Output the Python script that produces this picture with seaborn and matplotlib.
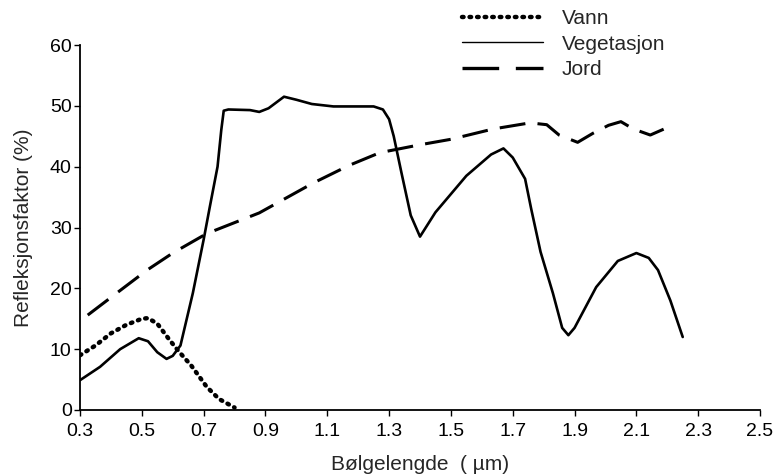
import matplotlib
matplotlib.use("Agg")
import matplotlib.pyplot as plt
from matplotlib.lines import Line2D
import seaborn as sns
import pandas as pd

# --- data ---
veg_x = [0.30, 0.365, 0.43, 0.49, 0.52, 0.55, 0.58, 0.60, 0.625, 0.665, 0.70, 0.72, 0.745,
         0.757, 0.765, 0.78, 0.85, 0.88, 0.91, 0.96, 1.00, 1.05, 1.12, 1.25, 1.28, 1.30,
         1.315, 1.34, 1.37, 1.40, 1.45, 1.55, 1.63, 1.67, 1.70, 1.74, 1.76, 1.79, 1.83,
         1.86, 1.88, 1.90, 1.97, 2.04, 2.10, 2.14, 2.17, 2.21, 2.25]
veg_y = [4.9, 7.1, 10.0, 11.8, 11.3, 9.5, 8.4, 8.9, 10.6, 19.2, 28.0, 33.4, 40.0,
         46.0, 49.2, 49.4, 49.3, 49.0, 49.6, 51.5, 51.0, 50.3, 49.9, 49.9, 49.4, 47.8,
         45.0, 39.0, 32.0, 28.5, 32.5, 38.5, 42.0, 43.0, 41.5, 38.0, 33.0, 26.0, 19.2,
         13.5, 12.3, 13.5, 20.2, 24.5, 25.8, 25.0, 23.0, 18.0, 12.0]

water_x = [0.30, 0.35, 0.40, 0.45, 0.50, 0.52, 0.55, 0.59, 0.62, 0.66, 0.71, 0.75, 0.80]
water_y = [9.0, 10.6, 12.6, 14.0, 15.0, 15.1, 14.2, 11.5, 9.6, 7.3, 3.8, 1.8, 0.4]

soil_x = [0.325, 0.40, 0.517, 0.60, 0.71, 0.88, 1.054, 1.17, 1.27, 1.40, 1.50, 1.637,
          1.756, 1.81, 1.85, 1.91, 1.96, 2.01, 2.05, 2.09, 2.145, 2.19]
soil_y = [15.6, 18.5, 23.0, 25.8, 29.0, 32.4, 37.3, 40.2, 42.3, 43.6, 44.5, 46.2,
          47.2, 46.9, 45.2, 44.0, 45.5, 46.8, 47.4, 46.2, 45.2, 46.2]

series_names = ["Vann", "Vegetasjon", "Jord"]
x_ticks = [0.3, 0.5, 0.7, 0.9, 1.1, 1.3, 1.5, 1.7, 1.9, 2.1, 2.3, 2.5]
y_ticks = [0, 10, 20, 30, 40, 50, 60]

sns.set_style("ticks")
plt.rcParams["font.family"] = ["Liberation Sans", "DejaVu Sans"]

fig = plt.figure(figsize=(7.8, 4.75), dpi=100)
ax = fig.add_axes([80 / 780, 65 / 475, 680 / 780, 365 / 475])

df_w = pd.DataFrame({"x": water_x, "y": water_y})
df_v = pd.DataFrame({"x": veg_x, "y": veg_y})
df_s = pd.DataFrame({"x": soil_x, "y": soil_y})

sns.lineplot(data=df_w, x="x", y="y", ax=ax, color="black", lw=3.2,
             linestyle=(0, (0.35, 1.35)), dash_capstyle="round", sort=False)
sns.lineplot(data=df_v, x="x", y="y", ax=ax, color="black", lw=1.9, sort=False)
sns.lineplot(data=df_s, x="x", y="y", ax=ax, color="black", lw=2.2,
             linestyle=(0, (8.5, 4)), sort=False)

ax.set_xlim(0.3, 2.5)
ax.set_ylim(0, 60)
ax.set_xticks(x_ticks)
ax.set_xticklabels([f"{t:.1f}" for t in x_ticks])
ax.set_yticks(y_ticks)
ax.tick_params(axis="both", labelsize=14, length=4, width=1, colors="black", pad=2)
ax.tick_params(axis="x", pad=5)
ax.set_xlabel("Bølgelengde  ( µm)", fontsize=15, labelpad=11)
ax.set_ylabel("Refleksjonsfaktor (%)", fontsize=15, labelpad=12)
for s in ["left", "bottom"]:
    ax.spines[s].set_linewidth(1.3)
    ax.spines[s].set_color("black")
sns.despine(ax=ax)

handles = [
    Line2D([], [], color="black", lw=3.2, linestyle=(0, (0.35, 1.35)), dash_capstyle="round"),
    Line2D([], [], color="black", lw=1.0),
    Line2D([], [], color="black", lw=2.4, linestyle=(0, (11, 5))),
]
fig.legend(handles, series_names, loc="upper left",
           bbox_to_anchor=(462 / 780, (475 - 9) / 475), frameon=False,
           fontsize=15, handlelength=3.9, handletextpad=0.9,
           labelspacing=0.32, borderpad=0, borderaxespad=0)

fig.savefig("out.png", dpi=100)
